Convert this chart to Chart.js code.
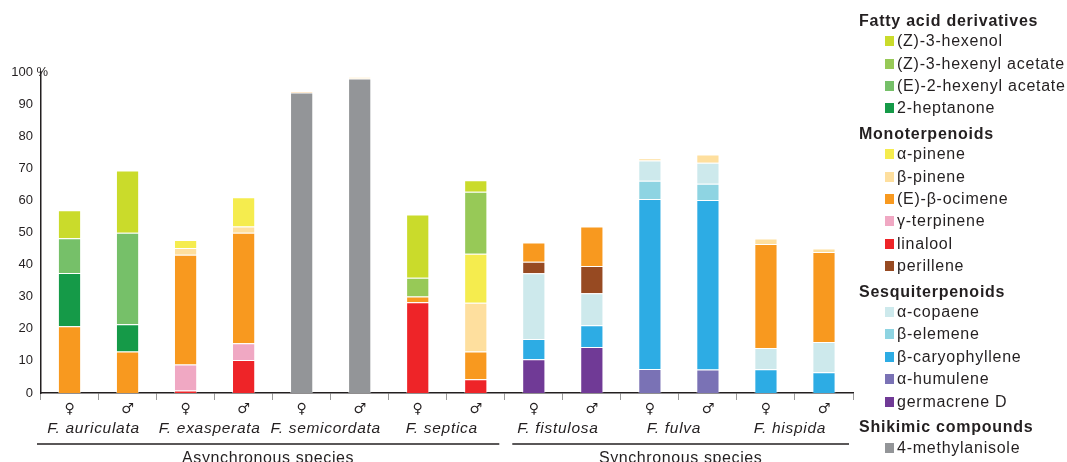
<!DOCTYPE html>
<html>
<head>
<meta charset="utf-8">
<script src="https://cdn.jsdelivr.net/npm/chart.js@4.4.1/dist/chart.umd.min.js"></script>
<style>
  html, body { margin: 0; padding: 0; background: #fff; }
  body {
    width: 1067px; height: 462px; position: relative; overflow: hidden;
    font-family: "Liberation Sans", Arial, sans-serif; color: #231F20;
  }
  #wrap { position: absolute; left: 0; top: 0; width: 860px; height: 462px; }
  #legend { position: absolute; left: 859px; top: 12px; font-size: 16px; letter-spacing: 0.75px; }
  .head { font-weight: bold; height: 18px; line-height: 18px; margin-top: 5.5px; white-space: nowrap; }
  .head:first-child { margin-top: 0; }
  .item { height: 22.4px; padding-left: 26px; display: flex; align-items: center; white-space: nowrap; }
  .box { width: 9px; height: 10px; margin-right: 3px; flex: none; }
</style>
</head>
<body>
<div id="wrap"><canvas id="chart"></canvas></div>
<div id="legend"></div>
<script>
// categories: female / male of each Ficus species
const sexes = ['♀', '♂', '♀', '♂', '♀', '♂', '♀', '♂', '♀', '♂', '♀', '♂', '♀', '♂'];
const species = ['F. auriculata', 'F. exasperata', 'F. semicordata', 'F. septica',
                 'F. fistulosa', 'F. fulva', 'F. hispida'];
const syncGroups = ['Asynchronous species', 'Synchronous species'];
const syncGroupFirst = [0, 8];   // first category index of each group
const syncGroupLast = [7, 13];

const yTicks = [0, 10, 20, 30, 40, 50, 60, 70, 80, 90, 100];

// compound classes (legend headings)
const classNames = ['Fatty acid derivatives', 'Monoterpenoids', 'Sesquiterpenoids', 'Shikimic compounds'];

// relative amounts (%) per category
const zHexenol         = [8.7, 19.4, 0, 0, 0, 0, 19.7, 3.6, 0, 0, 0, 0, 0, 0];
const zHexenylAcetate  = [0, 0, 0, 0, 0, 0, 5.8, 19.3, 0, 0, 0, 0, 0, 0];
const eHexenylAcetate  = [10.8, 28.5, 0, 0, 0, 0, 0, 0, 0, 0, 0, 0, 0, 0];
const heptanone        = [16.6, 8.5, 0, 0, 0, 0, 0, 0, 0, 0, 0, 0, 0, 0];
const aPinene          = [0, 0, 2.5, 9.1, 0, 0, 0, 15.3, 0, 0, 0, 0, 0, 0];
const bPinene          = [0, 0, 2.1, 2.0, 0, 0.4, 0, 15.2, 0, 0, 0.7, 2.6, 1.7, 1.1];
const ocimene          = [20.8, 12.9, 34.2, 34.4, 0.3, 0, 1.8, 8.6, 6.0, 12.3, 0, 0, 32.4, 28.0];
const terpinene        = [0, 0, 8.1, 5.2, 0, 0, 0, 0, 0, 0, 0, 0, 0, 0];
const linalool         = [0, 0, 0.8, 10.3, 0, 0, 28.3, 4.3, 0, 0, 0, 0, 0, 0];
const perillene        = [0, 0, 0, 0, 0, 0, 0, 0, 3.6, 8.5, 0, 0, 0, 0];
const copaene          = [0, 0, 0, 0, 0, 0, 0, 0, 20.5, 10.0, 6.3, 6.5, 6.6, 9.4];
const elemene          = [0, 0, 0, 0, 0, 0, 0, 0, 0, 0, 5.7, 5.1, 0, 0];
const caryophyllene    = [0, 0, 0, 0, 0, 0, 0, 0, 6.3, 6.8, 52.9, 52.8, 7.4, 6.5];
const humulene         = [0, 0, 0, 0, 0, 0, 0, 0, 0, 0, 7.5, 7.3, 0, 0];
const germacrene       = [0, 0, 0, 0, 0, 0, 0, 0, 10.5, 14.3, 0, 0, 0, 0];
const methylanisole    = [0, 0, 0, 0, 93.6, 98.0, 0, 0, 0, 0, 0, 0, 0, 0];

// legend order (top to bottom); stacking goes the other way
const compoundNames = ['(Z)-3-hexenol', '(Z)-3-hexenyl acetate', '(E)-2-hexenyl acetate', '2-heptanone',
  'α-pinene', 'β-pinene', '(E)-β-ocimene', 'γ-terpinene', 'linalool', 'perillene',
  'α-copaene', 'β-elemene', 'β-caryophyllene', 'α-humulene', 'germacrene D',
  '4-methylanisole'];
const compoundClass = [0, 0, 0, 0, 1, 1, 1, 1, 1, 1, 2, 2, 2, 2, 2, 3];
const compoundValues = [zHexenol, zHexenylAcetate, eHexenylAcetate, heptanone,
  aPinene, bPinene, ocimene, terpinene, linalool, perillene,
  copaene, elemene, caryophyllene, humulene, germacrene, methylanisole];
const compoundColors = ['#CADB2B', '#97C957', '#76C069', '#159A48',
  '#F5EC4E', '#FEDF9E', '#F8991F', '#F0A8C3', '#EE2428', '#974A22',
  '#CDE9EC', '#8ED4E2', '#2DACE4', '#7A72B5', '#703A96', '#939598'];

const ink = '#231F20';
const FONT = '"Liberation Sans", Arial, sans-serif';

// ---- HTML legend with class headings ----
function buildLegend() {
  const el = document.getElementById('legend');
  let lastClass = -1;
  compoundNames.forEach((name, i) => {
    if (compoundClass[i] !== lastClass) {
      lastClass = compoundClass[i];
      const h = document.createElement('div');
      h.className = 'head';
      h.textContent = classNames[lastClass];
      el.appendChild(h);
    }
    const row = document.createElement('div');
    row.className = 'item';
    const box = document.createElement('span');
    box.className = 'box';
    box.style.background = compoundColors[i];
    const label = document.createElement('span');
    label.textContent = name;
    row.appendChild(box);
    row.appendChild(label);
    el.appendChild(row);
  });
}

// species names, group lines and the "%" after 100
const decorations = {
  id: 'decorations',
  afterDraw(chart) {
    const { ctx, scales: { x, y } } = chart;
    const half = (x.getPixelForValue(1) - x.getPixelForValue(0)) / 2;
    ctx.save();
    ctx.fillStyle = ink;
    ctx.strokeStyle = ink;

    ctx.font = '13px ' + FONT;
    ctx.textAlign = 'left';
    ctx.textBaseline = 'middle';
    ctx.fillText('%', x.left - 4, y.getPixelForValue(100));

    ctx.font = 'italic 15.5px ' + FONT;
    ctx.letterSpacing = '0.7px';
    ctx.textAlign = 'center';
    ctx.textBaseline = 'alphabetic';
    species.forEach((name, i) => {
      const cx = (x.getPixelForValue(2 * i) + x.getPixelForValue(2 * i + 1)) / 2 - 5;
      ctx.fillText(name, cx, 433);
    });

    ctx.font = '16px ' + FONT;
    ctx.letterSpacing = '0.6px';
    ctx.lineWidth = 1.5;
    syncGroups.forEach((name, g) => {
      const x0 = x.getPixelForValue(syncGroupFirst[g]) - half + (g === 0 ? -3.5 : 7.5);
      const x1 = x.getPixelForValue(syncGroupLast[g]) + half - (g === 0 ? 5.5 : 4);
      ctx.beginPath();
      ctx.moveTo(x0, 444);
      ctx.lineTo(x1, 444);
      ctx.stroke();
      ctx.fillText(name, (x0 + x1) / 2, 462.5);
    });
    ctx.restore();
  }
};

function drawChart() {
  const datasets = compoundNames.map((name, i) => ({
    label: name,
    data: compoundValues[i],
    backgroundColor: compoundColors[i],
    borderColor: 'rgba(255,255,255,0.45)',
    borderWidth: 1,
    barPercentage: 0.4,
    categoryPercentage: 1.0
  })).reverse();

  new Chart(document.getElementById('chart'), {
    type: 'bar',
    data: { labels: sexes, datasets },
    plugins: [decorations],
    options: {
      responsive: true,
      maintainAspectRatio: false,
      animation: false,
      layout: { padding: { left: 0, right: 7, top: 72, bottom: 0 } },
      plugins: {
        legend: { display: false },
        tooltip: { enabled: false }
      },
      scales: {
        x: {
          stacked: true,
          afterFit: (scale) => { scale.height = 69; },
          grid: { drawOnChartArea: false, drawTicks: true, tickLength: 7, color: '#9a9a9a', offset: true },
          border: { display: true, color: ink, width: 1.5 },
          ticks: { color: ink, padding: 1, font: { family: '"DejaVu Sans", ' + FONT, size: 14 } }
        },
        y: {
          stacked: true,
          min: 0,
          max: 100,
          afterFit: (scale) => { scale.width = 40.5; },
          afterBuildTicks: (scale) => { scale.ticks = yTicks.map(v => ({ value: v })); },
          grid: { display: false, drawTicks: false },
          border: { display: true, color: ink, width: 1.5 },
          ticks: { color: ink, padding: 7.5, font: { family: FONT, size: 13 } }
        }
      }
    }
  });
}

buildLegend();
drawChart();
</script>
</body>
</html>
